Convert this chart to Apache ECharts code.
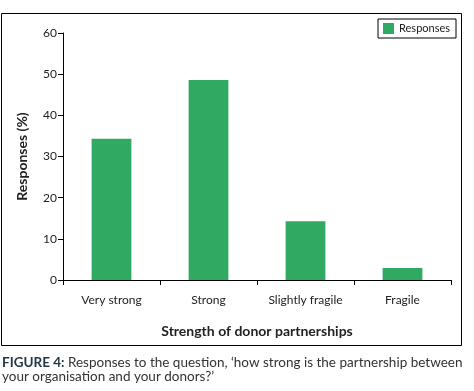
<!DOCTYPE html>
<html>
<head>
<meta charset="utf-8">
<script src="https://cdn.jsdelivr.net/npm/echarts@6/dist/echarts.min.js"></script>
<style>
  html, body { margin: 0; padding: 0; background: #fff; }
  #chart { width: 474px; height: 391px; }
</style>
</head>
<body>
<div id="chart"></div>
<script>
  // data
  const categories = ["Very strong", "Strong", "Slightly fragile", "Fragile"];
  const responses = [34.3, 48.6, 14.3, 2.9];
  const seriesName = "Responses";
  const xTitle = "Strength of donor partnerships";
  const yTitle = "Responses (%)";
  const captionLead = "FIGURE 4:";
  const captionLine1 = " Responses to the question, \u2018how strong is the partnership between";
  const captionLine2 = "your organisation and your donors?\u2019";

  const chart = echarts.init(document.getElementById("chart"));
  const font = "Lato, 'Open Sans', sans-serif";

  const option = {
    animation: false,
    textStyle: { fontFamily: font },
    grid: { left: 63, top: 33, right: 23, bottom: 111 },
    legend: {
      data: [{ name: seriesName, icon: "rect" }],
      right: 18,
      top: 19,
      padding: [4, 6, 4, 5],
      borderColor: "#000",
      borderWidth: 1,
      itemWidth: 11,
      itemHeight: 11,
      itemGap: 4,
      textStyle: { fontSize: 11, color: "#222", fontFamily: font }
    },
    xAxis: {
      type: "category",
      data: categories,
      name: xTitle,
      nameLocation: "middle",
      nameGap: 44,
      nameTextStyle: { fontSize: 14, fontWeight: "bold", color: "#222", fontFamily: font },
      axisLine: { lineStyle: { color: "#000", width: 1 } },
      axisTick: { show: true, length: 5, lineStyle: { color: "#000" } },
      axisLabel: { fontSize: 12, color: "#222", margin: 14, fontFamily: font }
    },
    yAxis: {
      type: "value",
      min: 0,
      max: 60,
      interval: 10,
      name: yTitle,
      nameLocation: "middle",
      nameGap: 34,
      nameTextStyle: { fontSize: 14, fontWeight: "bold", color: "#222", fontFamily: font },
      axisLine: { show: true, lineStyle: { color: "#000", width: 1 } },
      axisTick: { show: true, length: 5, lineStyle: { color: "#000" } },
      axisLabel: { fontSize: 12, color: "#222", margin: 6, fontFamily: font },
      splitLine: { show: false }
    },
    series: [
      {
        name: seriesName,
        type: "bar",
        data: responses,
        barWidth: "41%",
        itemStyle: { color: "#30a962" }
      }
    ],
    graphic: [
      {
        type: "rect",
        shape: { x: 1.5, y: 13.5, width: 460, height: 332 },
        style: { fill: null, stroke: "#000", lineWidth: 1 },
        silent: true
      },
      {
        type: "text",
        left: 2,
        top: 356,
        style: {
          text: "{b|" + captionLead + "}{n|" + captionLine1 + "}\n{n|" + captionLine2 + "}",
          rich: {
            b: { fontSize: 13.5, fontWeight: "bold", fill: "#253746", fontFamily: font, lineHeight: 13.5 },
            n: { fontSize: 13.5, fill: "#333", fontFamily: font, lineHeight: 13.5 }
          }
        }
      }
    ]
  };

  chart.setOption(option);
</script>
</body>
</html>
